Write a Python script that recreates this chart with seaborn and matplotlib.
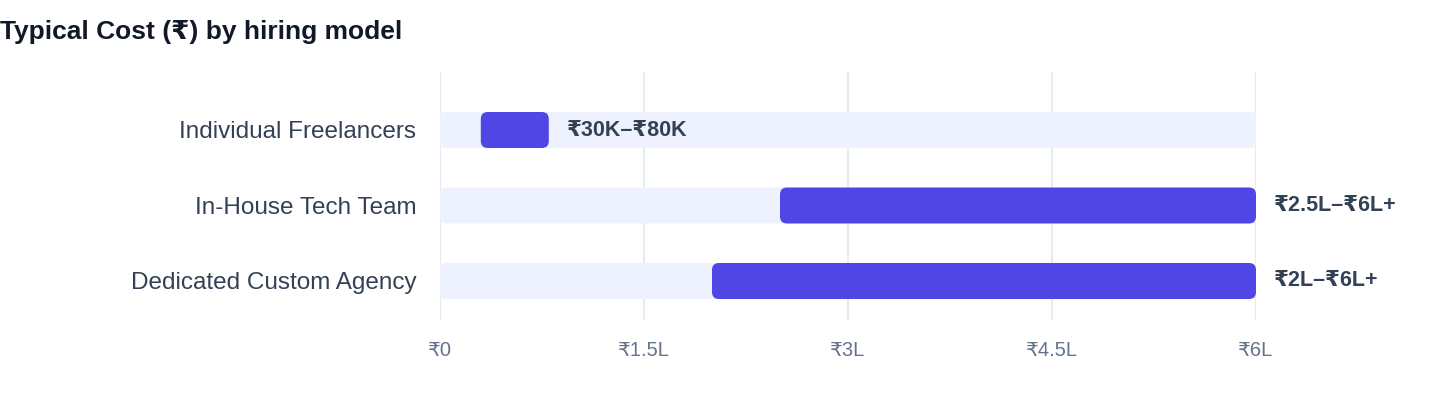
import matplotlib
matplotlib.use("Agg")
import matplotlib.pyplot as plt
import seaborn as sns
import pandas as pd
from matplotlib.patches import FancyBboxPatch

categories = ["Individual Freelancers", "In-House Tech Team", "Dedicated Custom Agency"]
low_values = [30000, 250000, 200000]
high_values = [80000, 600000, 600000]
range_labels = ["₹30K–₹80K", "₹2.5L–₹6L+", "₹2L–₹6L+"]
scale_max = 600000
tick_values = [0, 150000, 300000, 450000, 600000]
tick_labels = ["₹0", "₹1.5L", "₹3L", "₹4.5L", "₹6L"]

sns.set_theme(style="white")
FONTS = ["Liberation Sans", "DejaVu Sans"]
plt.rcParams["font.family"] = FONTS

df = pd.DataFrame({"category": categories, "low": low_values, "high": high_values,
                   "span": [h - l for h, l in zip(high_values, low_values)],
                   "track": [scale_max] * len(categories)})

fig = plt.figure(figsize=(14.4, 4.08), dpi=100)
ax = fig.add_axes([440 / 1440, 1 - 320 / 408, 816 / 1440, 248 / 408])

ypos = list(range(len(categories)))
bar_h = 36 / 75.5

# track bars
ax.barh(ypos, df["track"], left=0, height=bar_h, color="#EEF2FF", zorder=1)
# range bars
ax.barh(ypos, df["span"], left=df["low"], height=bar_h, color="#4F46E5", zorder=2)

ax.set_xlim(0, scale_max)
ax.set_ylim(2 + 39 / 75.5, -58 / 75.5)

# replace bars with rounded versions
fig.canvas.draw()
x_per_px = scale_max / 816
y_per_px = 1 / 75.5
aspect = y_per_px / x_per_px
for p in list(ax.patches):
    x, y, w, h = p.get_x(), p.get_y(), p.get_width(), p.get_height()
    fc = p.get_facecolor()
    z = p.get_zorder()
    r = (6 if z == 1 else 7) * x_per_px
    fb = FancyBboxPatch((x, y), w, h, boxstyle=f"round,pad=0,rounding_size={r}",
                        mutation_aspect=aspect, facecolor=fc, edgecolor="none", zorder=z)
    p.remove()
    ax.add_patch(fb)

for i, (hv, lab) in enumerate(zip(high_values, range_labels)):
    ax.annotate(lab, (hv, i), xytext=(13, 0), textcoords="offset points",
                ha="left", va="center", fontsize=15.5, fontweight="bold",
                color="#334155", family=FONTS, annotation_clip=False)

ax.set_xticks(tick_values)
ax.set_xticklabels(tick_labels, fontsize=14.5, color="#64748B", family=FONTS)
ax.set_yticks(ypos)
ax.set_yticklabels(categories, fontsize=17.5, color="#334155", family=FONTS)
ax.tick_params(axis="x", length=0, pad=15)
ax.tick_params(axis="y", length=0, pad=17)
ax.grid(axis="x", color="#E2E8F0", linewidth=1.2, zorder=0)
ax.set_axisbelow(True)
for s in ax.spines.values():
    s.set_visible(False)

fig.text(0.0, 1 - 32 / 408, "Typical Cost (₹) by hiring model", ha="left", va="center",
         fontsize=19, fontweight="bold", color="#111827", family=FONTS)

fig.savefig("out.png", dpi=100, facecolor="white")
